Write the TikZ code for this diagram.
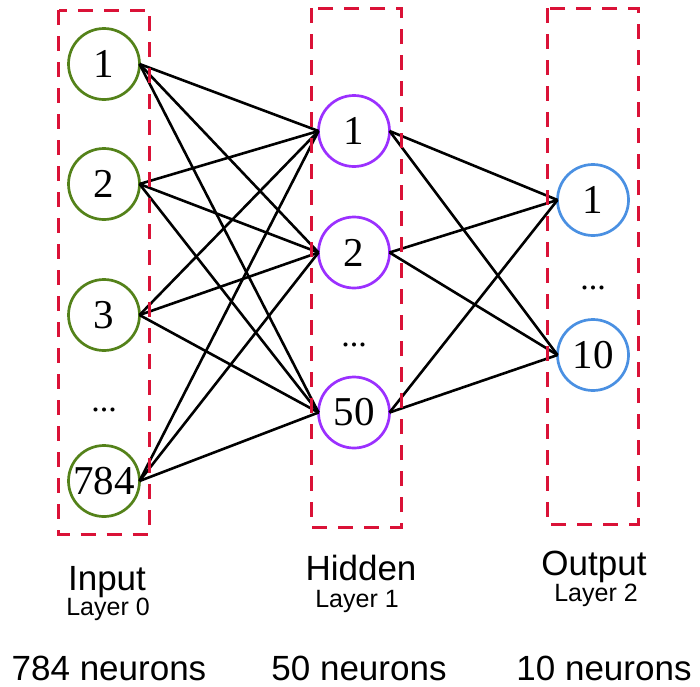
\documentclass[tikz,border=0pt]{standalone}
\usepackage{fontspec}
\setmainfont{Liberation Serif}
\setsansfont{Liberation Sans}
\definecolor{ingreen}{RGB}{84,130,26}
\definecolor{hidpurple}{RGB}{155,48,255}
\definecolor{outblue}{RGB}{74,144,226}
\definecolor{boxred}{RGB}{218,18,55}
\begin{document}
\begin{tikzpicture}[x=1pt,y=-1pt,
  neuron/.style={circle,draw,line width=2.7pt,minimum size=71pt,inner sep=0pt,outer sep=0pt,
    font=\fontsize{41}{41}\selectfont},
  inneuron/.style={neuron,draw=ingreen},
  hidneuron/.style={neuron,draw=hidpurple},
  outneuron/.style={neuron,draw=outblue},
  dotsnode/.style={anchor=base,inner sep=0pt,font=\fontsize{34}{34}\selectfont},
  layerbox/.style={draw=boxred,line width=3pt,dash pattern=on 15pt off 11pt},
  conn/.style={draw=black,line width=2.6pt},
  bigtext/.style={anchor=base,inner sep=0pt,font=\sffamily\fontsize{35}{35}\selectfont},
  smalltext/.style={anchor=base,inner sep=0pt,font=\sffamily\fontsize{25}{25}\selectfont}]
\useasboundingbox (0,0) rectangle (700,686);

% input layer
\node[inneuron] (i1) at (104,64) {1};
\node[inneuron] (i2) at (104,184) {2};
\node[inneuron] (i3) at (104,315) {3};
\node[dotsnode] (idots) at (104,411) {...};
\node[inneuron] (i784) at (104,481) {784};

% hidden layer
\node[hidneuron] (h1) at (354,131) {1};
\node[hidneuron] (h2) at (354,252.5) {2};
\node[dotsnode] (hdots) at (354,346) {...};
\node[hidneuron] (h50) at (354,412.5) {50};

% output layer
\node[outneuron] (o1) at (593,200) {1};
\node[dotsnode] (odots) at (593,289) {...};
\node[outneuron] (o10) at (593,355) {10};

% connections
\foreach \a in {i1,i2,i3,i784}
  \foreach \b in {h1,h2,h50}
    \draw[conn] (\a.east) -- (\b.west);
\foreach \a in {h1,h2,h50}
  \foreach \b in {o1,o10}
    \draw[conn] (\a.east) -- (\b.west);

% layer boxes
\draw[layerbox] (58.5,10) rectangle (149.5,534);
\draw[layerbox] (311,8) rectangle (401,527);
\draw[layerbox] (547,8) rectangle (638,524);

% labels
\node[bigtext] (tin) at (107,590) {Input};
\node[smalltext] (lin) at (108,615) {Layer 0};
\node[bigtext] (thid) at (361,580) {Hidden};
\node[smalltext] (lhid) at (357,607) {Layer 1};
\node[bigtext] (tout) at (594,575) {Output};
\node[smalltext] (lout) at (596,601) {Layer 2};
\node[bigtext] (nin) at (109,680) {784 neurons};
\node[bigtext] (nhid) at (359,680) {50 neurons};
\node[bigtext] (nout) at (604,680) {10 neurons};
\end{tikzpicture}
\end{document}
